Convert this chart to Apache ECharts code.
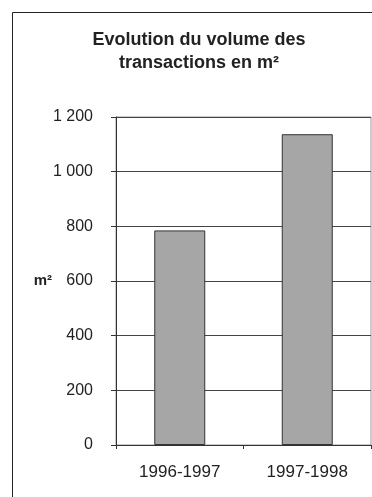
<!DOCTYPE html>
<html>
<head>
<meta charset="utf-8">
<script src="https://cdn.jsdelivr.net/npm/echarts@6/dist/echarts.min.js"></script>
<style>
  html, body { margin: 0; padding: 0; background: #fff; }
  #chart { width: 372px; height: 497px; }
</style>
</head>
<body>
<div id="chart"></div>
<script>
// Transaction volume per period, in square metres
const periods = ['1996-1997', '1997-1998'];
const volumes = [785, 1137];
const yTicks = [0, 200, 400, 600, 800, 1000, 1200];

const chart = echarts.init(document.getElementById('chart'), null, { renderer: 'canvas' });
const font = 'Liberation Sans, Arial, sans-serif';
const ink = '#222';

chart.setOption({
  backgroundColor: '#fff',
  animation: false,
  graphic: [
    {
      type: 'rect',
      shape: { x: 12.5, y: 12.5, width: 400, height: 500 },
      style: { fill: 'none', stroke: '#222', lineWidth: 1 },
      z: 0
    },
    {
      type: 'text',
      x: 199, y: 28.5,
      style: {
        text: 'Evolution du volume des\ntransactions en m²',
        textAlign: 'center',
        textVerticalAlign: 'top',
        font: 'bold 18px ' + font,
        lineHeight: 23,
        fill: ink
      }
    }
  ],
  grid: { left: 116, right: 1, top: 117, bottom: 52, containLabel: false, show: true, borderColor: '#999', borderWidth: 1 },
  xAxis: {
    type: 'category',
    data: periods,
    axisLine: { lineStyle: { color: '#333', width: 1 } },
    axisTick: { show: true, length: 4, alignWithLabel: false, lineStyle: { color: '#333' } },
    axisLabel: { color: ink, fontSize: 17, fontFamily: font, margin: 19 }
  },
  yAxis: {
    type: 'value',
    min: 0, max: 1200, interval: 200,
    name: 'm²',
    nameLocation: 'middle',
    nameRotate: 0,
    nameGap: 64,
    nameMoveOverlap: false,
    nameTextStyle: { color: ink, fontSize: 15, fontWeight: 'bold', fontFamily: font },
    axisLine: { show: true, lineStyle: { color: '#333', width: 1 } },
    axisTick: { show: true, length: 5, lineStyle: { color: '#333' } },
    axisLabel: {
      color: ink, fontSize: 16, fontFamily: font, margin: 23,
      formatter: v => yTicks.includes(v) ? String(v).replace(/\B(?=(\d{3})+(?!\d))/g, ' ') : ''
    },
    splitLine: { show: true, lineStyle: { color: '#444', width: 1 } }
  },
  series: [{
    type: 'bar',
    data: volumes,
    barWidth: '40%',
    itemStyle: { color: '#a6a6a6', borderColor: '#333', borderWidth: 1 }
  }]
});
</script>
</body>
</html>
